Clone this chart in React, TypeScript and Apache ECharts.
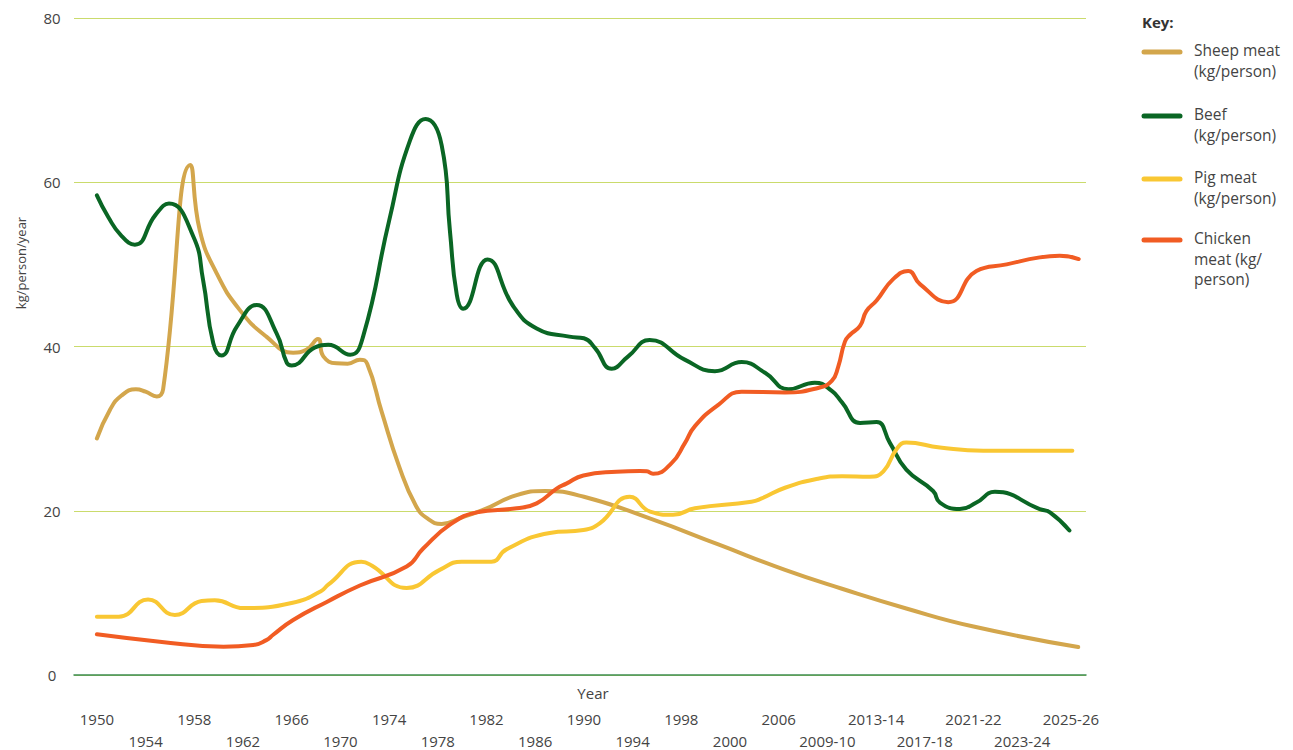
import React, { useEffect, useRef } from "react";
import * as echarts from "echarts";

// x positions are in label steps: 0 = 1950, 1 = 1954, ... 20 = 2025-26
const xLabels = [
  "1950", "1954", "1958", "1962", "1966", "1970", "1974", "1978", "1982", "1986",
  "1990", "1994", "1998", "2000", "2006", "2009-10", "2013-14", "2017-18", "2021-22",
  "2023-24", "2025-26",
];

const seriesNames = [
  "Sheep meat (kg/person)",
  "Beef (kg/person)",
  "Pig meat (kg/person)",
  "Chicken meat (kg/person)",
];

const legendLines = [
  ["Sheep meat", "(kg/person)"],
  ["Beef", "(kg/person)"],
  ["Pig meat", "(kg/person)"],
  ["Chicken", "meat (kg/", "person)"],
];

const colors = ["#d3a64c", "#0a6624", "#f9c733", "#f15c23"];

const sheepMeat = [
  [0, 28.8], [0.27, 32.3], [0.5, 34.0], [0.8, 34.8], [1.0, 34.5], [1.23, 33.9],
  [1.36, 34.8], [1.92, 62.1], [2.11, 54.2], [2.46, 48.9], [2.94, 44.4], [3.48, 41.2],
  [4.03, 39.25], [4.3, 39.6], [4.54, 40.9], [4.65, 38.8], [4.92, 37.95], [5.15, 37.9],
  [5.4, 38.4], [5.55, 37.9], [5.85, 32.0], [6.2, 25.5], [6.55, 20.6], [6.8, 19.0],
  [7.08, 18.4], [7.5, 19.2], [7.93, 20.1], [8.62, 21.9], [9.2, 22.4], [10.0, 21.7],
  [11.38, 19.0], [12.76, 15.9], [14.13, 12.8], [15.3, 10.5], [16.62, 8.1], [18.0, 5.9],
  [20.15, 3.4],
];

const beef = [
  [0, 58.4], [0.23, 55.8], [0.5, 53.5], [0.78, 52.4], [1.2, 56.0],
  [1.48, 57.4], [1.98, 53.4], [2.18, 48.1], [2.39, 40.4], [2.56, 38.9], [2.87, 42.4],
  [3.28, 45.05], [3.69, 41.6], [3.9, 38.0], [4.0, 37.7], [4.48, 39.9], [4.75, 40.2],
  [5.2, 39.0], [5.47, 41.3], [6.0, 55.3], [6.43, 65.1], [6.75, 67.7],
  [7.08, 64.5], [7.25, 54.0], [7.39, 46.3], [7.52, 44.6], [8.02, 50.6], [8.55, 44.9],
  [9.03, 42.2], [9.7, 41.2], [10.0, 41.0], [10.23, 39.8], [10.57, 37.3], [10.91, 38.8],
  [11.35, 40.8], [12.07, 38.4], [12.69, 37.0], [13.24, 38.1], [13.72, 36.8], [14.2, 34.8],
  [14.74, 35.6], [15.09, 34.6], [15.3, 33.2], [15.67, 30.7], [16.01, 30.8], [16.28, 28.3],
  [16.62, 25.0], [17.17, 22.4], [17.31, 21.0], [17.72, 20.2], [18.06, 21.0], [18.44, 22.3],
  [19.36, 20.2], [19.57, 19.8], [19.97, 17.6],
];

const pigMeat = [
  [0, 7.1], [0.45, 7.1], [1.05, 9.2], [1.6, 7.3], [2.15, 9.0], [2.42, 9.1], [3.02, 8.15],
  [4.02, 8.8], [4.6, 10.2], [4.75, 11.0], [5.43, 13.8], [5.65, 13.3], [6.36, 10.6],
  [7.04, 12.8], [7.49, 13.8], [8.1, 13.8], [8.41, 15.3], [9.3, 17.3], [9.99, 17.65],
  [10.33, 18.5], [10.94, 21.7], [11.36, 19.9], [11.83, 19.5], [12.28, 20.3], [13.44, 21.1],
  [13.65, 21.5], [14.13, 22.8], [14.81, 23.9], [15.3, 24.2], [15.87, 24.15], [16.15, 24.8],
  [16.42, 27.5], [16.62, 28.3], [17.31, 27.7], [18.2, 27.3], [20.03, 27.3],
];

const chickenMeat = [
  [0, 4.95], [1.29, 4.06], [2.6, 3.45], [3.21, 3.65], [3.48, 4.25], [3.62, 4.9],
  [4.03, 6.7], [4.72, 8.9], [5.4, 10.9], [6.36, 13.2], [6.7, 15.4], [7.25, 18.3],
  [7.8, 19.8], [8.62, 20.3], [9.03, 20.9], [9.44, 22.7], [9.64, 23.3], [9.99, 24.3],
  [10.67, 24.75], [11.15, 24.85], [11.29, 24.8], [11.42, 24.5], [11.8, 25.8], [12.07, 28.2],
  [12.28, 30.3], [12.76, 32.9], [13.24, 34.5], [14.13, 34.4], [14.81, 34.95], [15.09, 35.8],
  [15.22, 37.5], [15.36, 40.6], [15.46, 41.4], [15.67, 42.5], [15.8, 44.3], [16.01, 45.6],
  [16.35, 48.2], [16.66, 49.2], [16.9, 47.6], [17.48, 45.4], [18.06, 49.2], [18.68, 50.0],
  [19.36, 50.85], [19.77, 51.05], [20.16, 50.65],
];

const allSeries = [sheepMeat, beef, pigMeat, chickenMeat];

const FONT = "'Open Sans', 'Noto Sans', sans-serif";
const TEXT = "#444444";

export default function App() {
  const ref = useRef<HTMLDivElement>(null);

  useEffect(() => {
    document.body.style.margin = "0";
    if (!ref.current) return;
    const chart = echarts.init(ref.current, undefined, { renderer: "svg" });

    const legendTop = [52, 116, 179, 240];
    const lh = 20.7;
    const graphics: any[] = [
      {
        type: "text",
        x: 1142,
        y: 22,
        style: {
          text: "Key:",
          fill: "#333",
          fontSize: 15,
          fontWeight: "bold",
          fontFamily: FONT,
          align: "left",
          verticalAlign: "middle",
        },
      },
      {
        type: "text",
        x: 21,
        y: 263,
        rotation: Math.PI / 2,
        style: {
          text: "kg/person/year",
          fill: TEXT,
          fontSize: 13,
          fontFamily: FONT,
          align: "center",
          verticalAlign: "middle",
        },
      },
      {
        type: "text",
        x: 593,
        y: 693,
        style: {
          text: "Year",
          fill: TEXT,
          fontSize: 15,
          fontFamily: FONT,
          align: "center",
          verticalAlign: "middle",
        },
      },
    ];
    legendLines.forEach((lines, i) => {
      graphics.push({
        type: "line",
        shape: { x1: 1144, y1: legendTop[i], x2: 1180, y2: legendTop[i] },
        style: { stroke: colors[i], lineWidth: 5, lineCap: "round" },
      });
      graphics.push({
        type: "text",
        x: 1194,
        y: legendTop[i] - lh / 2 - 2,
        style: {
          text: lines.join("\n"),
          fill: TEXT,
          fontSize: 15.5,
          lineHeight: lh,
          fontFamily: FONT,
          align: "left",
          verticalAlign: "top",
        },
      });
    });

    const idx = xLabels.map((_, i) => i);
    const labelBase = {
      fontSize: 15,
      color: TEXT,
      fontFamily: FONT,
      hideOverlap: false,
      formatter: (value: number) => xLabels[Math.round(value)] ?? "",
    };

    chart.setOption({
      animation: false,
      grid: { left: 74, right: 207, top: 18, bottom: 75, containLabel: false },
      xAxis: [
        {
          type: "value",
          position: "bottom",
          min: -0.47,
          max: 20.31,
          splitLine: { show: false },
          axisTick: { show: false },
          axisLine: { show: true, onZero: false, lineStyle: { color: "#3d8c52", width: 1.5 } },
          axisLabel: {
            ...labelBase,
            customValues: idx.filter((i) => i % 2 === 0),
            margin: 36,
          },
        },
        {
          type: "value",
          position: "bottom",
          min: -0.47,
          max: 20.31,
          splitLine: { show: false },
          axisTick: { show: false },
          axisLine: { show: false },
          axisLabel: {
            ...labelBase,
            customValues: idx.filter((i) => i % 2 === 1),
            margin: 58,
          },
        },
      ],
      yAxis: {
        type: "value",
        min: 0,
        max: 80,
        interval: 20,
        axisLine: { show: false },
        axisTick: { show: false },
        splitLine: { lineStyle: { color: "#cadb6c", width: 1 } },
        axisLabel: {
          align: "center",
          margin: 22,
          fontSize: 15,
          color: TEXT,
          fontFamily: FONT,
        },
      },
      graphic: graphics,
      series: allSeries.map((d, i) => ({
        name: seriesNames[i],
        type: "line",
        xAxisIndex: 0,
        data: d,
        smooth: 0.5,
        showSymbol: false,
        symbol: "none",
        lineStyle: { color: colors[i], width: 4, cap: "round", join: "round" },
        itemStyle: { color: colors[i] },
        z: 2 + i,
      })),
    });

    return () => chart.dispose();
  }, []);

  return (
    <div
      ref={ref}
      style={{ position: "absolute", left: 0, top: 0, width: 1293, height: 750 }}
    />
  );
}
